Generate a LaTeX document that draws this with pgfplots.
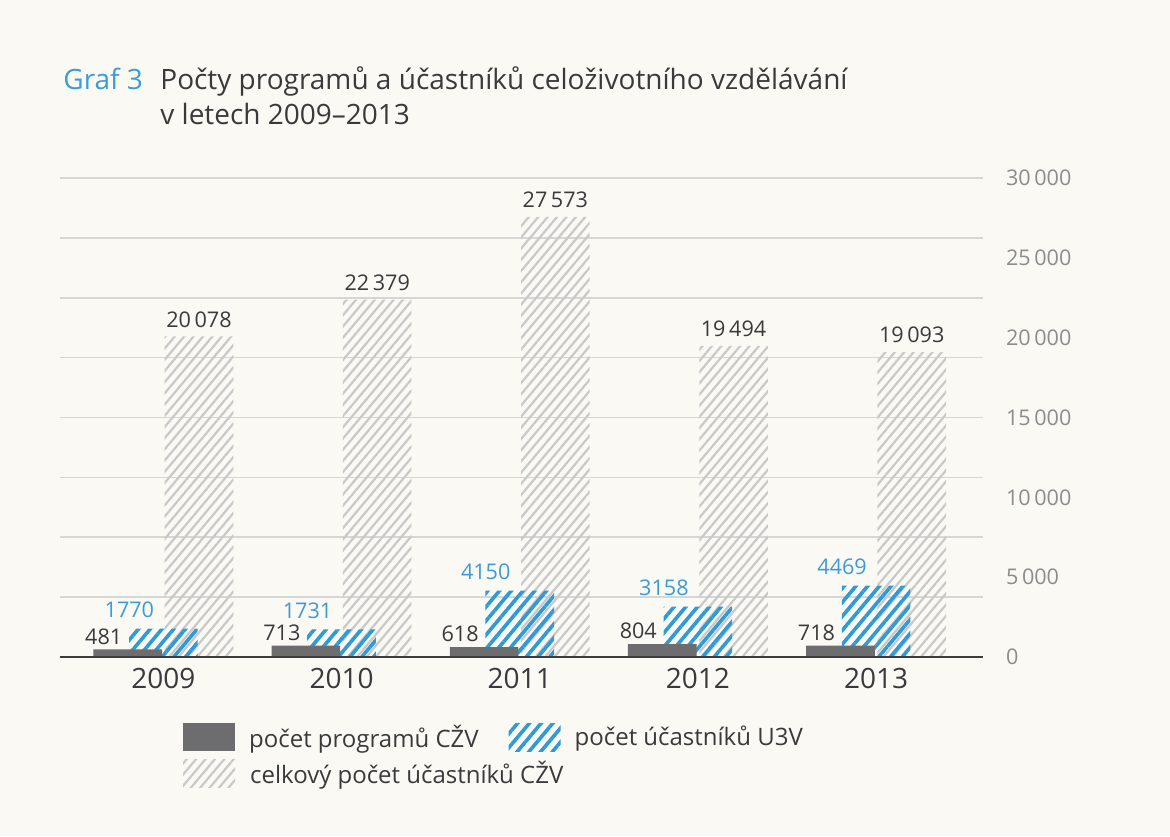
\documentclass[border=0pt]{standalone}
\usepackage{fontspec}
\setmainfont{Open Sans}
\usepackage{pgfplots}
\pgfplotsset{compat=1.18}
\usetikzlibrary{patterns.meta}
\definecolor{bgc}{HTML}{FBF9F4}
\definecolor{darkbar}{HTML}{6D6D70}
\definecolor{bluebar}{HTML}{2E9AD8}
\definecolor{bluetxt}{HTML}{3D9BD8}
\definecolor{greystripe}{HTML}{C9C9C9}
\definecolor{gridc}{HTML}{D6D6D4}
\definecolor{axisc}{HTML}{3C3C3C}
\definecolor{txt}{HTML}{3A3A3C}
\definecolor{ticktxt}{HTML}{8C8C8C}
\begin{document}
\begin{tikzpicture}
\fill[bgc] (0,0) rectangle (585pt,418pt);
\node[anchor=base west, inner sep=0pt, text=bluetxt, font=\fontsize{14}{17}\selectfont] at (31.5pt,373pt) {Graf 3};
\node[anchor=base west, inner sep=0pt, text=txt, font=\fontsize{14}{17}\selectfont] at (80pt,373pt) {Počty programů a účastníků celoživotního vzdělávání};
\node[anchor=base west, inner sep=0pt, text=txt, font=\fontsize{14}{17}\selectfont] at (80pt,355.5pt) {v letech 2009–2013};
\begin{axis}[
  at={(30pt,89.5pt)}, anchor=south west,
  width=461.5pt, height=239.5pt, scale only axis,
  xmin=-0.58, xmax=4.6, ymin=0, ymax=30000,
  clip=false,
  scaled y ticks=false,
  axis line style={draw=none},
  major tick length=0pt, minor tick length=0pt,
  xtick={0,1,2,3,4}, xticklabels={2009,2010,2011,2012,2013},
  xticklabel style={font=\fontsize{14}{16}\selectfont, text=txt, yshift=-2pt},
  ytick={0,5000,10000,15000,20000,25000,30000},
  yticklabels={0,5\,000,10\,000,15\,000,20\,000,25\,000,30\,000},
  yticklabel pos=right,
  yticklabel style={font=\fontsize{10.8}{12}\selectfont, text=ticktxt, anchor=west, xshift=8pt},
  minor ytick={3750,7500,11250,15000,18750,22500,26250,30000},
  yminorgrids, ymajorgrids=false,
  minor grid style={gridc, line width=0.8pt},
  legend columns=2,
  legend cell align=left,
  legend style={at={(0.133,0)}, anchor=north west, yshift=-33pt, draw=none, fill=none,
    inner sep=0pt, font=\fontsize{12}{14}\selectfont, text=txt, row sep=4pt,
    nodes={inner sep=0pt},
    /tikz/every odd column/.append style={column sep=7pt},
    /tikz/every even column/.append style={column sep=15pt}},
]
\addlegendimage{draw=none, legend image code/.code={\fill[darkbar, draw=none] (0pt,-7pt) rectangle (26pt,7pt);}}
\addlegendentry{počet programů CŽV}
\addlegendimage{draw=none, legend image code/.code={\fill[draw=none, pattern={Lines[angle=50,distance=4.5pt,line width=1.8pt]}, pattern color=bluebar] (0pt,-7pt) rectangle (26pt,7pt);}}
\addlegendentry{počet účastníků U3V}
\addlegendimage{draw=none, legend image code/.code={\fill[draw=none, pattern={Lines[angle=50,distance=3.6pt,line width=1.1pt]}, pattern color=greystripe] (0pt,-7pt) rectangle (26pt,7pt);}}
\addlegendentry{\makebox[0pt][l]{celkový počet účastníků CŽV}}

% grey: total participants (bars placed right of each year)
\addplot[ybar, bar width=0.385, bar shift=0, draw=none,
  pattern={Lines[angle=50,distance=3.6pt,line width=1.1pt]}, pattern color=greystripe,
  nodes near coords, point meta=explicit symbolic,
  nodes near coords style={anchor=south, font=\fontsize{10.8}{12}\selectfont, text=txt, yshift=1pt},
  forget plot]
coordinates {(0.2,20078) [20\,078] (1.2,22379) [22\,379] (2.2,27573) [27\,573] (3.2,19494) [19\,494] (4.2,19093) [19\,093]};
% blue: U3V participants (centred on each year)
\addplot[ybar, bar width=0.385, bar shift=0, draw=none,
  pattern={Lines[angle=50,distance=4.5pt,line width=1.8pt]}, pattern color=bluebar,
  nodes near coords, point meta=explicit symbolic,
  nodes near coords style={anchor=south, font=\fontsize{10.8}{12}\selectfont, text=bluetxt, xshift=-17pt, yshift=2pt},
  forget plot]
coordinates {(0,1770) [1770] (1,1731) [1731] (2,4150) [4150] (3,3158) [3158] (4,4469) [4469]};
% dark: programmes (left of each year)
\addplot[ybar, bar width=0.385, bar shift=0, draw=none, fill=darkbar,
  nodes near coords, point meta=explicit symbolic,
  nodes near coords style={anchor=south, font=\fontsize{10.8}{12}\selectfont, text=txt, xshift=-12pt, yshift=-1pt},
  forget plot]
coordinates {(-0.2,481) [481] (0.8,713) [713] (1.8,618) [618] (2.8,804) [804] (3.8,718) [718]};
\draw[axisc, line width=1.1pt] (rel axis cs:0,0) -- (rel axis cs:1,0);
\end{axis}
\end{tikzpicture}
\end{document}
